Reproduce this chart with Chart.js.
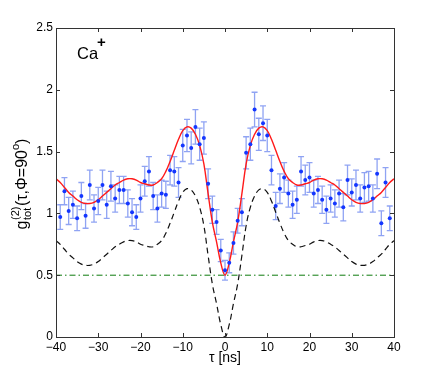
<!DOCTYPE html>
<html>
<head>
<meta charset="utf-8">
<script src="https://cdn.jsdelivr.net/npm/chart.js@4.4.0/dist/chart.umd.min.js"></script>
<style>
html,body{margin:0;padding:0;background:#fff;}
</style>
</head>
<body>
<canvas id="mygraph" width="436" height="379"></canvas>
<script>
// measured points, tau in ns
const tau = [-39,-38,-37,-36,-35,-34,-33,-32,-31,-30,-29,-28,-27,-26,-25,-24,-23,-22,-21,-20,
  -19,-18,-17,-16,-15,-14,-13,-12,-11,-10,-9,-8,-7,-6,-5,-4,-3,-2,-1,0,
  1,2,3,4,5,6,7,8,9,10,11,12,13,14,15,16,17,18,19,20,
  21,22,23,24,25,26,27,28,29,30,31,32,33,34,35,36,37,38,39];
const g2 = [0.97,1.18,1.02,1.07,0.96,1.14,0.98,1.23,1.04,1.10,1.23,1.07,1.22,1.12,1.19,1.19,1.08,1.01,0.97,1.12,
  1.26,1.34,1.14,1.04,1.16,1.15,1.35,1.34,1.25,1.55,1.63,1.53,1.70,1.56,1.61,1.24,1.03,0.93,0.70,0.54,
  0.60,0.76,0.94,1.01,1.49,1.56,1.84,1.64,1.73,1.63,1.35,1.06,1.20,1.29,1.16,1.07,1.11,1.34,1.27,1.29,
  1.16,1.19,1.11,1.03,1.12,1.08,1.16,1.05,1.27,1.17,1.23,1.12,1.21,1.22,1.12,1.32,0.92,1.25,0.96];
const g2err = [0.10,0.11,0.11,0.11,0.10,0.11,0.10,0.12,0.11,0.11,0.12,0.11,0.12,0.11,0.11,0.11,0.11,0.11,0.10,0.11,
  0.12,0.12,0.11,0.11,0.11,0.11,0.12,0.12,0.12,0.13,0.13,0.13,0.14,0.13,0.13,0.12,0.11,0.10,0.09,0.08,
  0.08,0.09,0.10,0.11,0.13,0.13,0.14,0.13,0.14,0.13,0.12,0.11,0.12,0.12,0.11,0.11,0.11,0.12,0.12,0.12,
  0.11,0.11,0.11,0.11,0.11,0.11,0.11,0.11,0.12,0.11,0.12,0.11,0.12,0.12,0.11,0.12,0.10,0.12,0.10];

// model curves
const modelTau = [-40,-39,-38,-37,-36,-35,-34,-33,-32,-31,-30,-29,-28,-27,-26,-25,-24,-23,-22,-21,
  -20,-19,-18,-17,-16,-15,-14,-13,-12,-11,-10,-9,-8,-7,-6,-5,-4,-3,-2,-1,0,
  1,2,3,4,5,6,7,8,9,10,11,12,13,14,15,16,17,18,19,20,
  21,22,23,24,25,26,27,28,29,30,31,32,33,34,35,36,37,38,39,40];
const fitG2 = [1.28,1.25,1.21,1.17,1.14,1.11,1.09,1.08,1.08,1.09,1.11,1.14,1.17,1.20,1.23,1.25,1.27,1.28,1.28,1.27,
  1.25,1.24,1.23,1.23,1.25,1.28,1.34,1.42,1.51,1.60,1.67,1.70,1.69,1.64,1.55,1.40,1.16,0.93,0.77,0.60,0.50,
  0.60,0.77,0.93,1.16,1.40,1.55,1.64,1.69,1.70,1.67,1.60,1.51,1.42,1.34,1.28,1.25,1.23,1.23,1.24,1.25,
  1.27,1.28,1.28,1.27,1.25,1.23,1.20,1.17,1.14,1.11,1.09,1.08,1.08,1.09,1.11,1.14,1.17,1.21,1.25,1.28];
const idealG2 = [0.78,0.75,0.71,0.67,0.64,0.61,0.59,0.58,0.58,0.59,0.61,0.64,0.67,0.70,0.73,0.75,0.77,0.78,0.78,0.77,
  0.75,0.74,0.73,0.73,0.75,0.78,0.84,0.92,1.01,1.10,1.17,1.20,1.19,1.14,1.05,0.90,0.66,0.43,0.27,0.10,0.00,
  0.10,0.27,0.43,0.66,0.90,1.05,1.14,1.19,1.20,1.17,1.10,1.01,0.92,0.84,0.78,0.75,0.73,0.73,0.74,0.75,
  0.77,0.78,0.78,0.77,0.75,0.73,0.70,0.67,0.64,0.61,0.59,0.58,0.58,0.59,0.61,0.64,0.67,0.71,0.75,0.78];
const levelTau = [-40, 40];
const levelG2 = [0.5, 0.5];

const xTicks = [-40,-30,-20,-10,0,10,20,30,40];
const yTicks = [0,0.5,1,1.5,2,2.5];

const pts = tau.map((t,i)=>({x:t, y:g2[i]}));
const fitPts = modelTau.map((t,i)=>({x:t, y:fitG2[i]}));
const idealPts = modelTau.map((t,i)=>({x:t, y:idealG2[i]}));
const levelPts = levelTau.map((t,i)=>({x:t, y:levelG2[i]}));

const FONT = "'Liberation Sans', Arial, Helvetica, sans-serif";

// error bars under the dots
const errorBars = {
  id: 'errorBars',
  beforeDatasetsDraw(chart) {
    const {ctx, scales:{x, y}} = chart;
    ctx.save();
    ctx.strokeStyle = 'rgba(115,140,240,0.8)';
    ctx.lineWidth = 1.3;
    ctx.beginPath();
    tau.forEach((t,i)=>{
      const px = x.getPixelForValue(t);
      const top = y.getPixelForValue(g2[i] + g2err[i]);
      const bot = y.getPixelForValue(g2[i] - g2err[i]);
      ctx.moveTo(px, top); ctx.lineTo(px, bot);
      ctx.moveTo(px-3, top); ctx.lineTo(px+3, top);
      ctx.moveTo(px-3, bot); ctx.lineTo(px+3, bot);
    });
    ctx.stroke();
    ctx.restore();
  }
};

// box, inward ticks and the texts
const frame = {
  id: 'frame',
  afterDraw(chart) {
    const {ctx, chartArea:a, scales:{x, y}} = chart;
    ctx.save();
    ctx.strokeStyle = '#333';
    ctx.lineWidth = 1;
    ctx.strokeRect(a.left+0.5, a.top+0.5, a.right-a.left, a.bottom-a.top);
    ctx.beginPath();
    xTicks.forEach(v=>{
      const px = Math.round(x.getPixelForValue(v))+0.5;
      ctx.moveTo(px, a.bottom); ctx.lineTo(px, a.bottom-4);
      ctx.moveTo(px, a.top); ctx.lineTo(px, a.top+4);
    });
    yTicks.forEach(v=>{
      const py = Math.round(y.getPixelForValue(v))+0.5;
      ctx.moveTo(a.left, py); ctx.lineTo(a.left+4, py);
      ctx.moveTo(a.right, py); ctx.lineTo(a.right-4, py);
    });
    ctx.stroke();

    ctx.fillStyle = '#000';
    // Ca+
    ctx.textBaseline = 'alphabetic';
    ctx.textAlign = 'left';
    ctx.font = '16.5px ' + FONT;
    ctx.fillText('Ca', 77, 59);
    ctx.font = 'bold 15px ' + FONT;
    ctx.fillText('+', 97, 47);

    // x label
    ctx.textAlign = 'center';
    ctx.font = '14px ' + FONT;
    ctx.fillText('\u03c4 [ns]', (a.left+a.right)/2, 362);

    // y label, rotated
    ctx.translate(27, 184);
    ctx.rotate(-Math.PI/2);
    ctx.textAlign = 'left';
    const big = '16px ' + FONT, small = '11px ' + FONT;
    const main = '(\u03c4,\u03a6=90';
    ctx.font = big;
    let w = ctx.measureText('g').width + ctx.measureText(main).width + ctx.measureText(')').width;
    ctx.font = small;
    const stackW = Math.max(ctx.measureText('(2)').width, ctx.measureText('tot').width);
    w += stackW + ctx.measureText('o').width + 1;
    let cx = -w/2;
    ctx.font = big; ctx.fillText('g', cx, 0); cx += ctx.measureText('g').width + 0.5;
    ctx.font = small;
    ctx.fillText('(2)', cx, -8);
    ctx.fillText('tot', cx, 4);
    cx += stackW + 0.5;
    ctx.font = big; ctx.fillText(main, cx, 0); cx += ctx.measureText(main).width;
    ctx.font = small; ctx.fillText('o', cx, -8); cx += ctx.measureText('o').width;
    ctx.font = big; ctx.fillText(')', cx, 0);
    ctx.restore();
  }
};

const ctx = document.getElementById('mygraph');
const mygraph = new Chart(ctx, {
  type: 'scatter',
  data: {
    datasets: [
      {
        data: levelPts,
        showLine: true,
        borderColor: '#0d7a0d',
        borderWidth: 1,
        borderDash: [6,3,1.5,3],
        pointRadius: 0
      },
      {
        data: idealPts,
        showLine: true,
        borderColor: '#111',
        borderWidth: 1.2,
        borderDash: [6,4],
        tension: 0.4,
        pointRadius: 0
      },
      {
        data: pts,
        backgroundColor: '#1436ff',
        borderColor: '#1436ff',
        pointRadius: 2,
        borderWidth: 0
      },
      {
        data: fitPts,
        showLine: true,
        borderColor: '#ff1a1a',
        borderWidth: 1.4,
        tension: 0.4,
        pointRadius: 0
      }
    ]
  },
  options: {
    responsive: false,
    animation: false,
    devicePixelRatio: 1,
    layout: {padding: {left: 0, right: 42, top: 28, bottom: 0}},
    plugins: {legend: {display: false}, tooltip: {enabled: false}},
    scales: {
      x: {
        type: 'linear',
        min: -40, max: 40,
        grid: {display: false, drawTicks: false},
        border: {display: false},
        afterFit: s => { s.height = 42; },
        afterBuildTicks: s => { s.ticks = xTicks.map(v=>({value:v})); },
        ticks: {
          color: '#000', padding: 3,
          font: {family: FONT, size: 12},
          maxRotation: 0,
          callback: v => String(v).replace('-', '\u2212')
        }
      },
      y: {
        type: 'linear',
        min: 0, max: 2.5,
        grid: {display: false, drawTicks: false},
        border: {display: false},
        afterFit: s => { s.width = 56; },
        afterBuildTicks: s => { s.ticks = yTicks.map(v=>({value:v})); },
        ticks: {
          color: '#000', padding: 3,
          font: {family: FONT, size: 12},
          callback: v => String(v)
        }
      }
    }
  },
  plugins: [errorBars, frame]
});
</script>
</body>
</html>
